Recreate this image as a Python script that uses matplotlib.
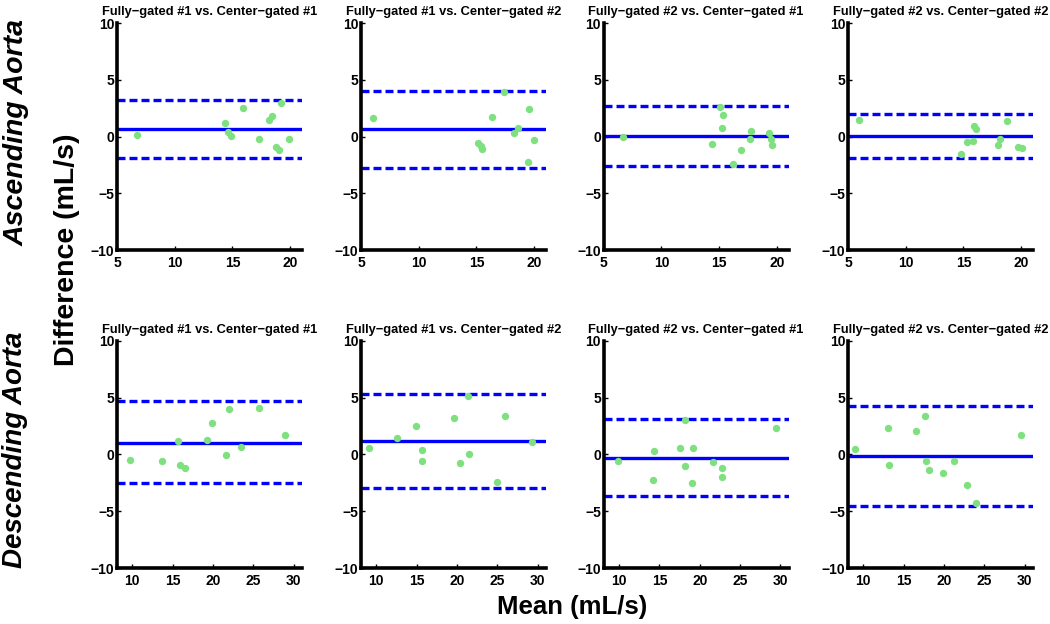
import numpy as np
import matplotlib.pyplot as plt

plt.rcParams['font.family'] = ['Liberation Sans', 'DejaVu Sans']

titles = ["Fully\u2212gated #1 vs. Center\u2212gated #1",
          "Fully\u2212gated #1 vs. Center\u2212gated #2",
          "Fully\u2212gated #2 vs. Center\u2212gated #1",
          "Fully\u2212gated #2 vs. Center\u2212gated #2"]
rows = ["Ascending Aorta", "Descending Aorta"]

# ascending aorta: mean / difference pairs
asc_x = [
    [6.75, 14.35, 14.58, 14.87, 15.9, 17.29, 18.2, 18.4, 18.75, 19.0, 19.24, 19.91],
    [6.04, 15.1, 15.37, 15.48, 16.35, 17.34, 18.26, 18.58, 19.42, 19.54, 19.97],
    [6.68, 14.34, 15.06, 15.32, 15.23, 16.18, 16.88, 17.66, 17.72, 19.31, 19.48, 19.57],
    [5.99, 14.78, 15.27, 15.85, 15.9, 16.11, 18.0, 18.18, 18.81, 19.71, 20.03],
]
asc_y = [
    [0.12, 1.23, 0.41, 0.03, 2.55, -0.18, 1.44, 1.85, -0.88, -1.17, 2.96, -0.18],
    [1.64, -0.59, -0.79, -1.08, 1.76, 3.93, 0.32, 0.73, -2.2, 2.46, -0.26],
    [-0.06, -0.67, 2.64, 1.94, 0.76, -2.38, -1.17, -0.18, 0.53, 0.35, -0.18, -0.76],
    [1.44, -1.5, -0.47, -0.38, 0.91, 0.65, -0.7, -0.18, 1.35, -0.88, -0.97],
]
asc_bias = [0.70, 0.67, 0.06, 0.03]
asc_upper = [3.26, 4.05, 2.67, 1.96]
asc_lower = [-1.9, -2.76, -2.55, -1.9]

# descending aorta
desc_x = [
    [9.71, 13.65, 15.64, 15.85, 16.47, 19.29, 19.88, 21.62, 21.99, 23.44, 25.64, 28.92],
    [9.08, 12.58, 14.96, 15.63, 15.63, 19.67, 20.33, 21.42, 21.54, 24.96, 26.0, 29.25],
    [9.88, 14.37, 14.2, 17.57, 18.11, 18.2, 18.99, 19.19, 21.6, 22.72, 22.81, 29.5],
    [9.0, 13.05, 13.22, 16.47, 17.6, 17.72, 18.1, 19.9, 21.23, 22.86, 23.99, 29.54],
]
desc_y = [
    [-0.5, -0.58, 1.2, -0.96, -1.17, 1.31, 2.8, -0.09, 4.03, 0.7, 4.12, 1.69],
    [0.61, 1.43, 2.51, 0.41, -0.58, 3.21, -0.79, 5.11, 0.0, -2.39, 3.42, 1.08],
    [-0.58, 0.32, -2.22, 0.53, 3.01, -0.99, -2.54, 0.53, -0.7, -1.2, -2.01, 2.31],
    [0.5, 2.31, -0.9, 2.1, 3.39, -0.61, -1.4, -1.61, -0.61, -2.69, -4.29, 1.69],
]
desc_bias = [1.05, 1.17, -0.29, -0.15]
desc_upper = [4.67, 5.28, 3.09, 4.23]
desc_lower = [-2.54, -2.95, -3.65, -4.58]

asc_xlim = (5, 21)
desc_xlim = (8.1, 31)
asc_xticks = [5, 10, 15, 20]
desc_xticks = [10, 15, 20, 25, 30]

fig = plt.figure(figsize=(10.5, 6.24), dpi=100)

lefts = [0.1114, 0.3438, 0.575, 0.8076]
width = 0.176
bottoms = [0.599, 0.0897]
height = 0.364

blue = '#0000ff'
green = '#7fe07f'

data = [(asc_x, asc_y, asc_bias, asc_upper, asc_lower, asc_xlim, asc_xticks),
        (desc_x, desc_y, desc_bias, desc_upper, desc_lower, desc_xlim, desc_xticks)]

for r, (xs, ys, bias, up, lo, xlim, xt) in enumerate(data):
    for c in range(4):
        ax = fig.add_axes([lefts[c], bottoms[r], width, height])
        ax.axhline(bias[c], color=blue, lw=2.4)
        ax.axhline(up[c], color=blue, lw=2.4, ls=(0, (2.4, 1.2)))
        ax.axhline(lo[c], color=blue, lw=2.4, ls=(0, (2.4, 1.2)))
        ax.scatter(xs[c], ys[c], s=28, color=green, zorder=3, linewidths=0)
        ax.set_xlim(*xlim)
        ax.set_ylim(-10, 10)
        ax.set_xticks(xt)
        ax.set_yticks([-10, -5, 0, 5, 10])
        ax.set_yticklabels(['\u221210', '\u22125', '0', '5', '10'])
        for s in ['top', 'right']:
            ax.spines[s].set_visible(False)
        for s in ['left', 'bottom']:
            ax.spines[s].set_linewidth(2.6)
            ax.spines[s].set_color('black')
        ax.tick_params(direction='in', length=3, width=1, labelsize=10)
        ax.tick_params(axis='x', pad=4)
        ax.tick_params(axis='y', pad=2)
        for lab in ax.get_xticklabels() + ax.get_yticklabels():
            lab.set_fontweight('bold')
        ax.set_title(titles[c], fontsize=9.3, fontweight='bold', pad=6)

fig.text(0.0155, 0.788, rows[0], rotation=90, ha='center', va='center',
         fontsize=20.5, fontweight='bold', style='italic')
fig.text(0.0145, 0.279, rows[1], rotation=90, ha='center', va='center',
         fontsize=20, fontweight='bold', style='italic')
fig.text(0.064, 0.599, "Difference (mL/s)", rotation=90, ha='center', va='center',
         fontsize=20.5, fontweight='bold')
fig.text(0.545, 0.027, "Mean (mL/s)", ha='center', va='center',
         fontsize=18.5, fontweight='bold')

fig.savefig('out.png', dpi=100)
